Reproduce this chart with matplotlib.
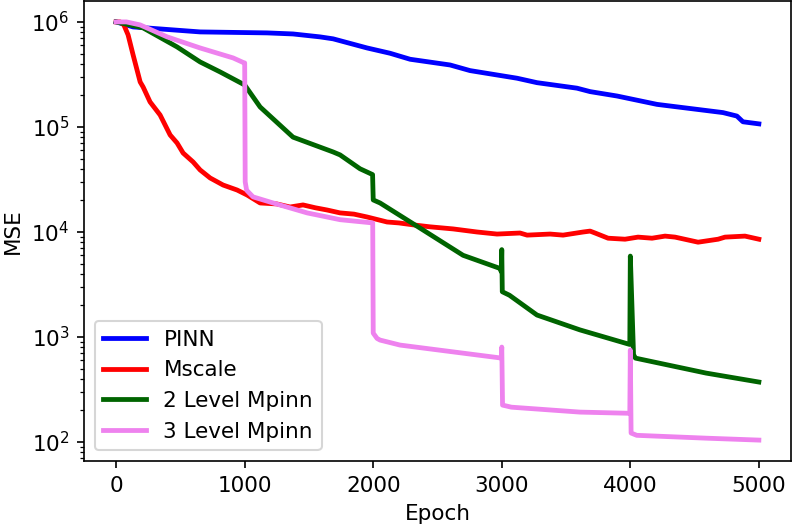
import matplotlib
matplotlib.use("Agg")
import matplotlib.pyplot as plt

# ---- data ----
pinn_epoch = [0, 132, 653, 1174, 1376, 1587, 1688, 1952, 2131, 2287, 2598, 2753,
              3119, 3274, 3585, 3687, 3897, 4208, 4721, 4829, 4876, 5000]
pinn_mse = [1.0e6, 0.896e6, 0.803e6, 0.786e6, 0.768e6, 0.72e6, 0.69e6, 0.565e6,
            0.503e6, 0.441e6, 0.389e6, 0.344e6, 0.291e6, 0.264e6, 0.234e6,
            0.217e6, 0.197e6, 0.164e6, 0.137e6, 0.127e6, 0.112e6, 0.107e6]

mscale_epoch = [0, 30, 60, 93, 132, 187, 210, 264, 342, 420, 474, 521, 599, 653,
                731, 832, 941, 1019, 1120, 1250, 1353, 1454, 1550, 1641, 1742,
                1850, 1952, 2108, 2200, 2310, 2442, 2621, 2808, 2963, 3142, 3197,
                3376, 3477, 3633, 3687, 3726, 3827, 3959, 4060, 4169, 4270, 4348,
                4527, 4683, 4737, 4892, 5000]
mscale_mse = [1.0e6, 1.0e6, 0.936e6, 0.752e6, 0.485e6, 0.268e6, 0.240e6, 0.173e6,
              0.130e6, 83.9e3, 70.4e3, 56.5e3, 46.4e3, 39.0e3, 32.7e3, 28.0e3,
              25.1e3, 22.5e3, 18.9e3, 18.5e3, 17.3e3, 18.1e3, 17.0e3, 16.2e3,
              15.2e3, 14.8e3, 13.9e3, 12.45e3, 12.2e3, 11.7e3, 11.2e3, 10.7e3,
              10.0e3, 9.56e3, 9.78e3, 9.34e3, 9.56e3, 9.34e3, 10.0e3, 10.2e3,
              9.78e3, 8.73e3, 8.54e3, 8.94e3, 8.73e3, 9.14e3, 8.94e3, 8.0e3,
              8.54e3, 8.94e3, 9.14e3, 8.54e3]

mp2_epoch = [0, 210, 474, 653, 809, 1000, 1120, 1376, 1688, 1742, 1897, 1995,
             2000, 2053, 2364, 2699, 2986, 2996, 3000, 3004, 3060, 3274, 3608,
             3996, 4000, 4025, 4040, 4589, 5000]
mp2_mse = [1.0e6, 0.877e6, 0.578e6, 0.416e6, 0.334e6, 0.251e6, 0.155e6, 0.080e6,
           0.0578e6, 0.0542e6, 0.0400e6, 0.0352e6, 0.0202e6, 0.0189e6, 10.9e3,
           6.0e3, 4.5e3, 4.2e3, 6.8e3, 2.7e3, 2.5e3, 1.62e3, 1.17e3, 0.85e3,
           5.9e3, 0.68e3, 0.63e3, 0.454e3, 0.373e3]

mp3_epoch = [0, 80, 187, 397, 653, 910, 996, 1000, 1004, 1015, 1065, 1221, 1486,
             1742, 1996, 2000, 2030, 2053, 2208, 2996, 3000, 3006, 3075, 3608,
             3996, 4000, 4006, 4050, 4589, 5000]
mp3_mse = [1.0e6, 1.0e6, 0.936e6, 0.72e6, 0.565e6, 0.454e6, 0.407e6, 0.407e6,
           30.0e3, 25.0e3, 21.6e3, 18.9e3, 15.2e3, 13.1e3, 12.2e3, 1.09e3,
           0.97e3, 0.936e3, 0.839e3, 0.631e3, 0.803e3, 0.225e3, 0.215e3,
           0.193e3, 0.188e3, 0.752e3, 0.122e3, 0.116e3, 0.109e3, 0.1045e3]

labels = ["PINN", "Mscale", "2 Level Mpinn", "3 Level Mpinn"]
colors = ["blue", "red", "darkgreen", "violet"]

plt.rcParams["font.size"] = 10.3
fig = plt.figure(figsize=(5.28, 3.52), dpi=150)
ax = fig.add_axes([84 / 792, 1 - 461 / 528, (791 - 84) / 792, 460 / 528])

series = [(pinn_epoch, pinn_mse), (mscale_epoch, mscale_mse),
          (mp2_epoch, mp2_mse), (mp3_epoch, mp3_mse)]
for (x, y), lab, c in zip(series, labels, colors):
    ax.plot(x, y, color=c, lw=2.3, label=lab)

ax.set_yscale("log")
ax.set_xlabel("Epoch")
ax.set_ylabel("MSE")
ax.set_xticks([0, 1000, 2000, 3000, 4000, 5000])
ax.legend(loc="lower left")

fig.savefig("out.png", dpi=150)
